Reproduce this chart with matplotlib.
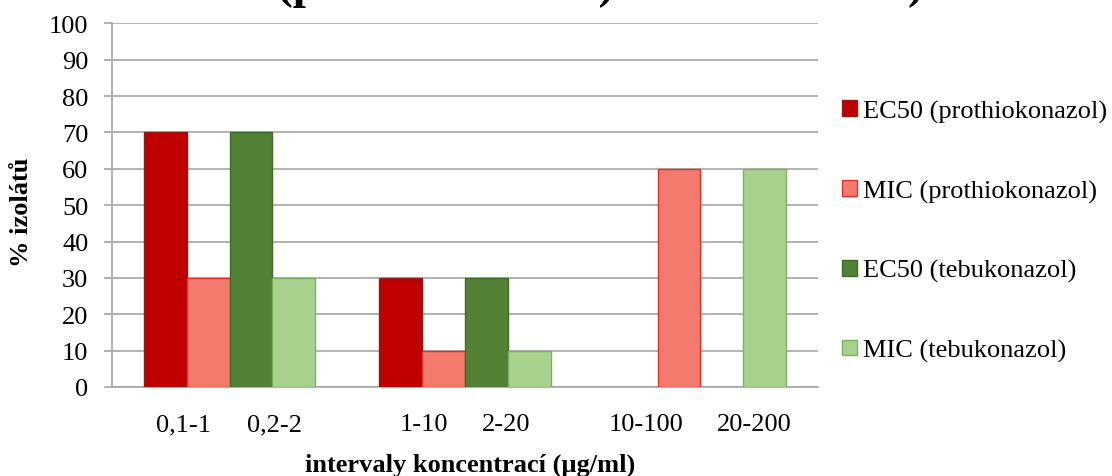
import matplotlib.pyplot as plt
from matplotlib.patches import Patch

plt.rcParams['font.family'] = ['Liberation Serif', 'DejaVu Serif']

# data: % of isolates per concentration interval
series = ['EC50 (prothiokonazol)', 'MIC (prothiokonazol)',
          'EC50 (tebukonazol)', 'MIC (tebukonazol)']
ec50_prothio = [70, 30, 0]
mic_prothio = [30, 10, 60]
ec50_tebu = [70, 30, 0]
mic_tebu = [30, 10, 60]
interval_labels = ['0,1-1', '0,2-2', '1-10', '2-20', '10-100', '20-200']

face_colors = ['#C00000', '#F27B6E', '#538135', '#A9D18E']
edge_colors = ['#8E1A1A', '#E0302A', '#3E6B28', '#7FAF62']

fig = plt.figure(figsize=(11.12, 4.77), dpi=100)
ax = fig.add_axes([112 / 1112, 1 - 388 / 477, (818 - 112) / 1112, (388 - 24.3) / 477])

group_w = 5.5
centers = [group_w * i + group_w / 2 for i in range(3)]
values = [ec50_prothio, mic_prothio, ec50_tebu, mic_tebu]
for k, vals in enumerate(values):
    xs = [c + (k - 1.5) for c in centers]
    # no outline for empty bars, otherwise a stub shows on the baseline
    edges = [edge_colors[k] if v > 0 else 'none' for v in vals]
    ax.bar(xs, vals, width=1.0, color=face_colors[k], edgecolor=edges,
           linewidth=1, zorder=3)

ax.set_xlim(0, 3 * group_w)
ax.set_ylim(0, 100)
ax.set_yticks(range(0, 101, 10))
ax.grid(axis='y', color='#A6A6A6', linewidth=1.2, zorder=0)

# interval labels sit under each pair of bars
label_pos = [1.66, 3.79, 7.29, 9.21, 12.48, 15.0]
ax.set_xticks(label_pos)
ax.set_xticklabels(interval_labels)
ax.tick_params(axis='x', length=0, pad=19, labelsize=19)
ax.tick_params(axis='y', length=6, width=1.2, color='#A6A6A6', pad=11, labelsize=19)

for side in ['top', 'right']:
    ax.spines[side].set_visible(False)
for side in ['left', 'bottom']:
    ax.spines[side].set_color('#A6A6A6')
    ax.spines[side].set_linewidth(1.2)

fig.text(22 / 1112, 1 - 212 / 477, '% izolátů', rotation=90, fontsize=19,
         fontweight='bold', ha='center', va='center')
fig.text(470 / 1112, 1 - 465 / 477, 'intervaly koncentrací (µg/ml)', fontsize=19,
         fontweight='bold', ha='center', va='center')

# title runs off the top edge, only the descenders stay in view
fig.text(277 / 1112, 1 + 2 / 477, '(prothiokonazol) a tebukonazol)', fontsize=34,
         fontweight='bold', ha='left', va='baseline')

handles = [Patch(facecolor=face_colors[k], edgecolor=edge_colors[k], linewidth=1)
           for k in range(4)]
fig.legend(handles, series, loc='center left', bbox_to_anchor=(842 / 1112, 1 - 232 / 477),
           frameon=False, fontsize=19, borderpad=0, borderaxespad=0,
           handlelength=0.55, handleheight=0.55, handletextpad=0.25, labelspacing=2.15)

fig.savefig('out.png', dpi=100)
